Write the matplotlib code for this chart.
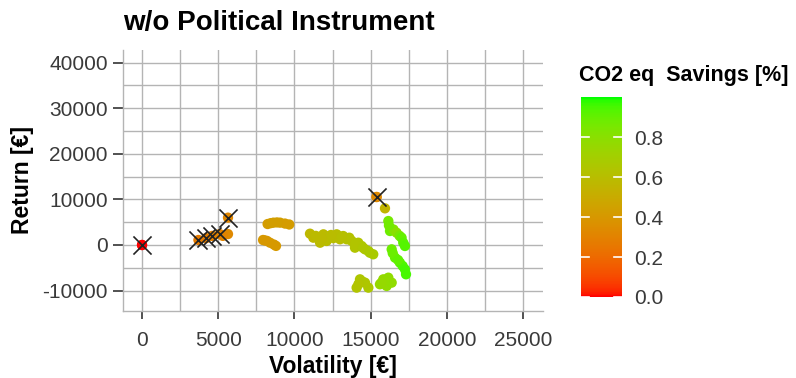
import matplotlib
matplotlib.use("Agg")
import matplotlib.pyplot as plt
import matplotlib.ticker as ticker
from matplotlib.colors import LinearSegmentedColormap
import numpy as np

plt.rcParams['font.family'] = ['Liberation Sans', 'DejaVu Sans']

# Portfolios (volatility, return, CO2 eq savings share)
volatility = [0, 5640, 5300,
              8240, 8620, 9060, 9380, 9660, 8450, 8850,
              7940, 8200, 8400, 8650, 8790, 8050,
              11020, 11240, 11680, 11900, 12110, 12330, 12770, 12990, 13200,
              13430, 13760, 13970, 14190, 14410, 14630, 14850, 15170,
              11400, 12550, 13600, 14000, 14500, 14950, 11800, 12400, 13100,
              15390, 15940,
              16160, 16270, 16500, 16700, 16900, 17030, 17140, 17250, 16200,
              16380, 16600, 16920, 17100, 17250, 17320, 16450, 16800,
              14300, 14080, 14850, 14630, 14450, 14200,
              15830, 16160, 15610, 16050, 16380, 15900, 15700]
ret = [0, 2400, 2000,
       4600, 4900, 4900, 4700, 4500, 4800, 4950,
       1100, 900, 500, 100, -200, 1000,
       2480, 1600, 500, 2340, 880, 1970, 2340, 1250, 1970,
       1250, 880, -590, 500, -220, -950, -1320, -2040,
       2000, 1500, 1600, 300, -600, -1700, 1400, 2200, 1800,
       10530, 8040,
       5260, 3070, 3400, 2700, 2000, 1600, 500, -220, 4300,
       -950, -2780, -3880, -4600, -5340, -6430, -1800, -3300,
       -7530, -9360, -9360, -8260, -8000, -8600,
       -7530, -7170, -8620, -8990, -8260, -7900, -8300]
savings = [0.0, 0.33, 0.31,
           0.42, 0.43, 0.43, 0.42, 0.42, 0.43, 0.43,
           0.40, 0.40, 0.41, 0.41, 0.41, 0.40,
           0.57, 0.57, 0.58, 0.58, 0.59, 0.59, 0.60, 0.60, 0.61,
           0.62, 0.63, 0.64, 0.64, 0.65, 0.66, 0.67, 0.68,
           0.58, 0.60, 0.62, 0.64, 0.65, 0.67, 0.58, 0.59, 0.61,
           0.33, 0.55,
           0.86, 0.88, 0.82, 0.80, 0.85, 0.90, 0.92, 0.93, 0.87,
           0.88, 0.90, 0.92, 0.94, 0.95, 0.95, 0.89, 0.91,
           0.65, 0.64, 0.66, 0.65, 0.65, 0.64,
           0.76, 0.78, 0.75, 0.77, 0.78, 0.77, 0.76]

# Efficient portfolios marked with a cross
mark_vol = [0, 3700, 4200, 4600, 5100, 5640, 15390]
mark_ret = [0, 1100, 1500, 2000, 2400, 6000, 10530]
mark_sav = [0.0, 0.27, 0.28, 0.29, 0.30, 0.32, 0.33]

x_ticks = [0, 5000, 10000, 15000, 20000, 25000]
y_ticks = [-10000, 0, 10000, 20000, 30000, 40000]
cbar_ticks = [0.0, 0.2, 0.4, 0.6, 0.8]


def srgb_to_lab(rgb):
    rgb = np.asarray(rgb, float)
    lin = np.where(rgb <= 0.04045, rgb / 12.92, ((rgb + 0.055) / 1.055) ** 2.4)
    m = np.array([[0.4124, 0.3576, 0.1805],
                  [0.2126, 0.7152, 0.0722],
                  [0.0193, 0.1192, 0.9505]])
    xyz = m @ lin / np.array([0.95047, 1.0, 1.08883])
    f = np.where(xyz > 0.008856, np.cbrt(xyz), 7.787 * xyz + 16 / 116)
    return np.array([116 * f[1] - 16, 500 * (f[0] - f[1]), 200 * (f[1] - f[2])])


def lab_to_srgb(lab):
    L, a, b = lab
    fy = (L + 16) / 116
    fx = fy + a / 500
    fz = fy - b / 200
    f = np.array([fx, fy, fz])
    xyz = np.where(f ** 3 > 0.008856, f ** 3, (f - 16 / 116) / 7.787)
    xyz = xyz * np.array([0.95047, 1.0, 1.08883])
    m = np.array([[3.2406, -1.5372, -0.4986],
                  [-0.9689, 1.8758, 0.0415],
                  [0.0557, -0.2040, 1.0570]])
    lin = np.clip(m @ xyz, 0, 1)
    rgb = np.where(lin <= 0.0031308, 12.92 * lin, 1.055 * lin ** (1 / 2.4) - 0.055)
    return np.clip(rgb, 0, 1)


# red -> green gradient interpolated in Lab (like ggplot's scale_colour_gradient)
lab_lo = srgb_to_lab([1, 0, 0])
lab_hi = srgb_to_lab([0, 1, 0])
stops = [lab_to_srgb(lab_lo + t * (lab_hi - lab_lo)) for t in np.linspace(0, 1, 64)]
cmap = LinearSegmentedColormap.from_list("red_green", stops)

fig = plt.figure(figsize=(7.96, 3.78), dpi=100)
ax = fig.add_axes([0.1545, 0.177, 0.5275, 0.691])

grid_col = "#b4b4b4"
for v in np.arange(0, 25001, 2500):
    ax.axvline(v, color=grid_col, lw=1.0, zorder=0)
for v in np.arange(-10000, 40001, 5000):
    ax.axhline(v, color=grid_col, lw=1.0, zorder=0)

sc = ax.scatter(volatility, ret, c=savings, cmap=cmap, vmin=0, vmax=1.0,
                s=55, edgecolors='none', zorder=2)
ax.scatter(mark_vol, mark_ret, c=mark_sav, cmap=cmap, vmin=0, vmax=1.0,
           s=55, edgecolors='none', zorder=3)
ax.scatter(mark_vol, mark_ret, marker='x', s=170, color='#222222',
           linewidths=1.2, zorder=4)

ax.set_xlim(-1250, 26300)
ax.set_ylim(-14500, 42800)
ax.set_xticks(x_ticks)
ax.set_yticks(y_ticks)
ax.xaxis.set_major_formatter(ticker.FuncFormatter(lambda v, p: f"{int(v)}"))
ax.yaxis.set_major_formatter(ticker.FuncFormatter(lambda v, p: f"{int(v)}"))
ax.tick_params(labelsize=15, colors='#333333', width=1.2, labelcolor='#3a3a3a')
ax.tick_params(axis='x', length=6, pad=8)
ax.tick_params(axis='y', length=7, pad=4)
for s in ['top', 'right']:
    ax.spines[s].set_visible(False)
for s in ['left', 'bottom']:
    ax.spines[s].set_color(grid_col)
    ax.spines[s].set_linewidth(1.0)

ax.set_xlabel("Volatility [€]", fontsize=16.5, fontweight='bold', labelpad=4)
ax.set_ylabel("Return [€]", fontsize=16.5, fontweight='bold', labelpad=6)
fig.text(0.1545, 0.921, "w/o Political Instrument", fontsize=20,
         fontweight='bold', ha='left', va='baseline')

cax = fig.add_axes([0.730, 0.2143, 0.051, 0.529])
cb = fig.colorbar(sc, cax=cax, ticks=cbar_ticks)
cb.outline.set_visible(False)
cb.ax.tick_params(length=0, labelsize=15, labelcolor='#3a3a3a', pad=9)
cb.ax.yaxis.set_major_formatter(ticker.FuncFormatter(lambda v, p: f"{v:.1f}"))
for t in cbar_ticks:
    cax.plot([0, 0.2], [t, t], color='white', lw=1.2, transform=cax.get_yaxis_transform())
    cax.plot([0.8, 1.0], [t, t], color='white', lw=1.2, transform=cax.get_yaxis_transform())
fig.text(0.727, 0.785, "CO2 eq  Savings [%]", fontsize=15.5, fontweight='bold',
         ha='left', va='baseline')

fig.savefig("out.png", dpi=100)
